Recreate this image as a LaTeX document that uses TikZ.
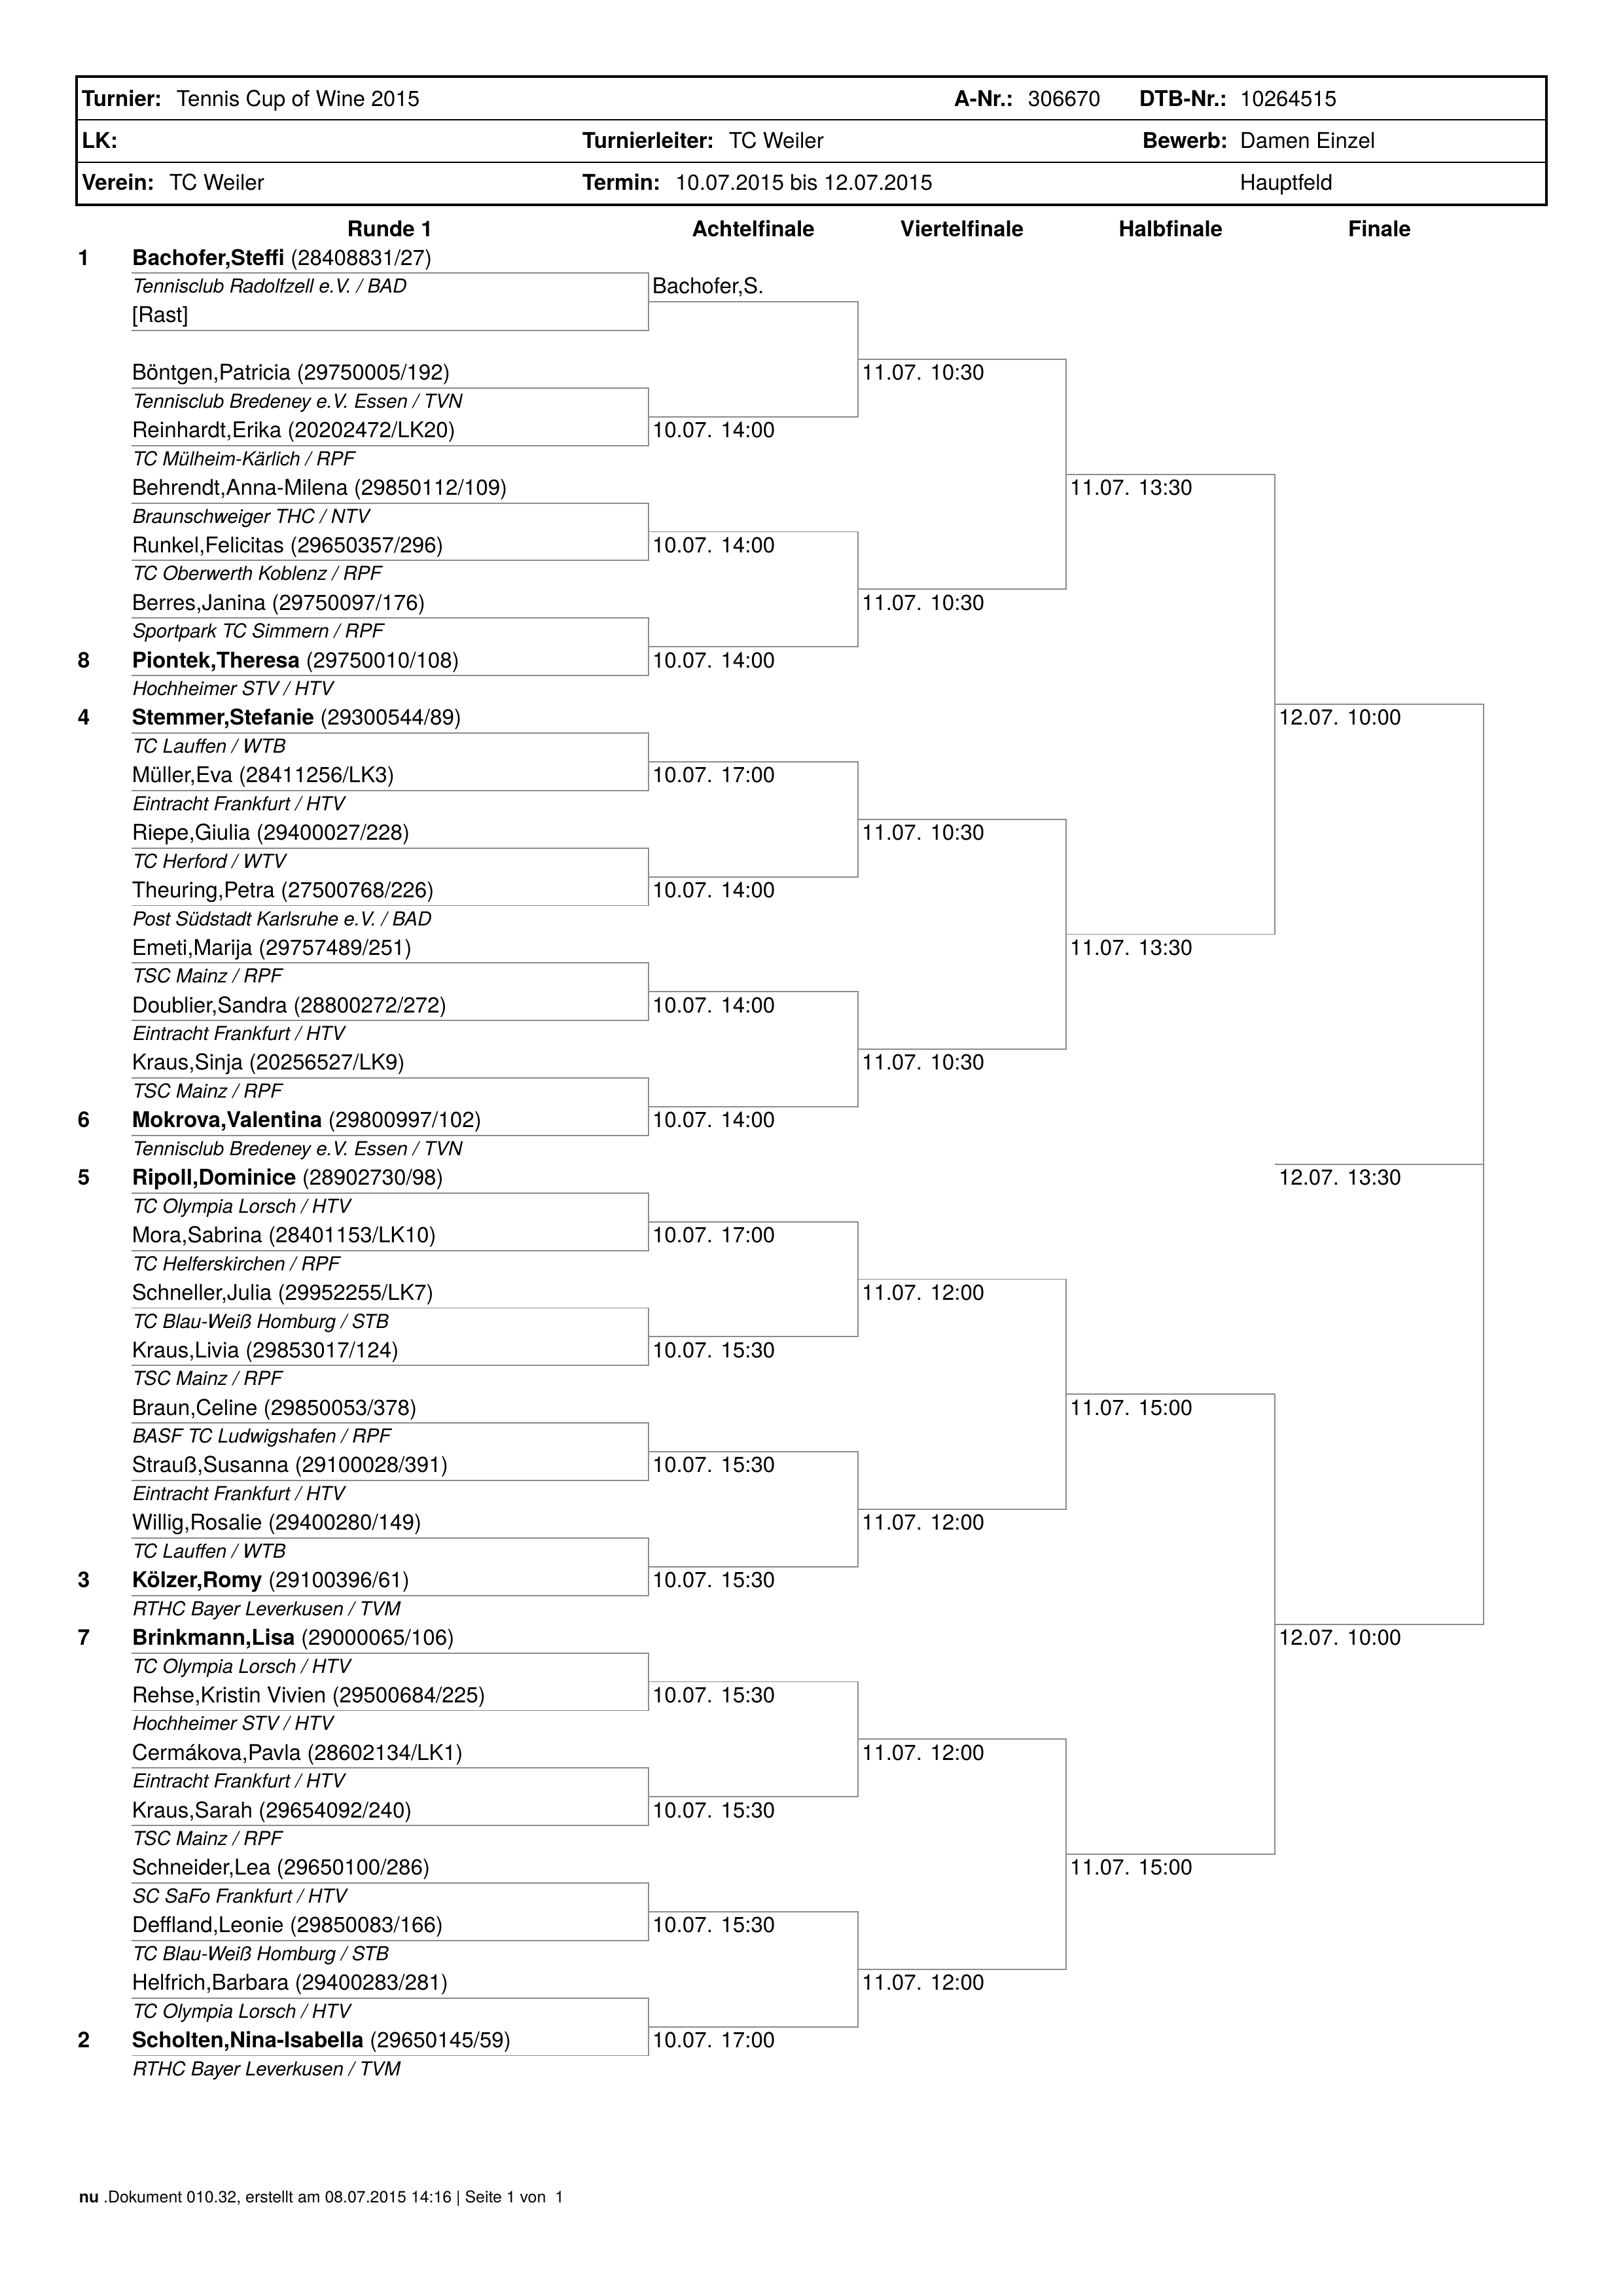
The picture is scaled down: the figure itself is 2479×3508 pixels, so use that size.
\documentclass[tikz,border=0pt]{standalone}
\usepackage{fontspec}
\setmainfont{TeX Gyre Heros}

\begin{document}
\begin{tikzpicture}[x=0.08471mm, y=-0.08471mm,
    namebox/.style={anchor=west, inner sep=0pt, text height=5.8pt, text depth=0pt, font=\fontsize{8}{9.6}\selectfont},
    clubbox/.style={namebox, text height=5.2pt, font=\fontsize{7.1}{8.5}\selectfont\itshape},
    seedbox/.style={namebox, font=\fontsize{8}{9.6}\selectfont\bfseries},
    headbox/.style={namebox, anchor=center, font=\fontsize{8}{9.6}\selectfont\bfseries},
    datebox/.style={namebox},
    bracketline/.style={draw=black!45, line width=0.45pt}]

      \useasboundingbox (0,0) rectangle (2479,3508);

      % Kopf
      \draw[line width=0.5pt] (117,183) -- (2363,183);
      \draw[line width=0.5pt] (117,248) -- (2363,248);
      \draw[line width=0.9pt] (117,117) rectangle (2363,313);

      \node[namebox] (turnier) at (124,150) {\textbf{Turnier:}\hspace{5.5pt}Tennis Cup of Wine 2015};
      \node[namebox] (anr) at (1457,150) {\textbf{A-Nr.:}\hspace{5.5pt}306670};
      \node[namebox] (dtb) at (1740,150) {\textbf{DTB-Nr.:}};
      \node[namebox] (dtbval) at (1894,150) {10264515};
      \node[namebox] (lk) at (124,214) {\textbf{LK:}};
      \node[namebox] (leiter) at (889,214) {\textbf{Turnierleiter:}\hspace{5.5pt}TC Weiler};
      \node[namebox, anchor=east] (bewerb) at (1877,214) {\textbf{Bewerb:}};
      \node[namebox] (bewerbval) at (1894,214) {Damen Einzel};
      \node[namebox] (verein) at (124,278) {\textbf{Verein:}\hspace{5.5pt}TC Weiler};
      \node[namebox] (termin) at (889,278) {\textbf{Termin:}\hspace{5.5pt}10.07.2015 bis 12.07.2015};
      \node[namebox] (feld) at (1894,278) {Hauptfeld};

      % Raster: eine Einheit in y = eine Zeile pro Spielerin
      \begin{scope}[shift={(0,305.15)}, y=-7.4419mm]

      \node[headbox] (runde) at (596,0.5) {Runde 1};
      \node[headbox] (achtel) at (1151,0.5) {Achtelfinale};
      \node[headbox] (viertel) at (1470,0.5) {Viertelfinale};
      \node[headbox] (halb) at (1789,0.5) {Halbfinale};
      \node[headbox] (finale) at (2108,0.5) {Finale};

      \foreach \r/\xa/\xb/\cnt in {1/201/991/16, 2/991/1311/8, 3/1311/1629/4, 4/1629/1948/2, 5/1948/2267/1}{
              \foreach \j in {1,...,\cnt}{
                      \draw[bracketline] (\xa,{2^\r*(\j-0.75)+0.775}) -| (\xb,{2^\r*(\j-0.25)+0.775}) -- (\xa,{2^\r*(\j-0.25)+0.775});
                  }
          }
      \draw[bracketline] (1948,16.775) -- (2267,16.775);

      \node[seedbox] (seed1) at (118,1) {1};
      \node[namebox] (name1) at (201,1) {\textbf{Bachofer,Steffi} (28408831/27)};
      \node[clubbox] (club1) at (202,1.5) {Tennisclub Radolfzell e.V. / BAD};
      \node[namebox] (name2) at (201,2) {[Rast]};
      \node[namebox] (name3) at (201,3) {Böntgen,Patricia (29750005/192)};
      \node[clubbox] (club3) at (202,3.5) {Tennisclub Bredeney e.V. Essen / TVN};
      \node[namebox] (name4) at (201,4) {Reinhardt,Erika (20202472/LK20)};
      \node[clubbox] (club4) at (202,4.5) {TC Mülheim-Kärlich / RPF};
      \node[namebox] (name5) at (201,5) {Behrendt,Anna-Milena (29850112/109)};
      \node[clubbox] (club5) at (202,5.5) {Braunschweiger THC / NTV};
      \node[namebox] (name6) at (201,6) {Runkel,Felicitas (29650357/296)};
      \node[clubbox] (club6) at (202,6.5) {TC Oberwerth Koblenz / RPF};
      \node[namebox] (name7) at (201,7) {Berres,Janina (29750097/176)};
      \node[clubbox] (club7) at (202,7.5) {Sportpark TC Simmern / RPF};
      \node[seedbox] (seed8) at (118,8) {8};
      \node[namebox] (name8) at (201,8) {\textbf{Piontek,Theresa} (29750010/108)};
      \node[clubbox] (club8) at (202,8.5) {Hochheimer STV / HTV};
      \node[seedbox] (seed9) at (118,9) {4};
      \node[namebox] (name9) at (201,9) {\textbf{Stemmer,Stefanie} (29300544/89)};
      \node[clubbox] (club9) at (202,9.5) {TC Lauffen / WTB};
      \node[namebox] (name10) at (201,10) {Müller,Eva (28411256/LK3)};
      \node[clubbox] (club10) at (202,10.5) {Eintracht Frankfurt / HTV};
      \node[namebox] (name11) at (201,11) {Riepe,Giulia (29400027/228)};
      \node[clubbox] (club11) at (202,11.5) {TC Herford / WTV};
      \node[namebox] (name12) at (201,12) {Theuring,Petra (27500768/226)};
      \node[clubbox] (club12) at (202,12.5) {Post Südstadt Karlsruhe e.V. / BAD};
      \node[namebox] (name13) at (201,13) {Emeti,Marija (29757489/251)};
      \node[clubbox] (club13) at (202,13.5) {TSC Mainz / RPF};
      \node[namebox] (name14) at (201,14) {Doublier,Sandra (28800272/272)};
      \node[clubbox] (club14) at (202,14.5) {Eintracht Frankfurt / HTV};
      \node[namebox] (name15) at (201,15) {Kraus,Sinja (20256527/LK9)};
      \node[clubbox] (club15) at (202,15.5) {TSC Mainz / RPF};
      \node[seedbox] (seed16) at (118,16) {6};
      \node[namebox] (name16) at (201,16) {\textbf{Mokrova,Valentina} (29800997/102)};
      \node[clubbox] (club16) at (202,16.5) {Tennisclub Bredeney e.V. Essen / TVN};
      \node[seedbox] (seed17) at (118,17) {5};
      \node[namebox] (name17) at (201,17) {\textbf{Ripoll,Dominice} (28902730/98)};
      \node[clubbox] (club17) at (202,17.5) {TC Olympia Lorsch / HTV};
      \node[namebox] (name18) at (201,18) {Mora,Sabrina (28401153/LK10)};
      \node[clubbox] (club18) at (202,18.5) {TC Helferskirchen / RPF};
      \node[namebox] (name19) at (201,19) {Schneller,Julia (29952255/LK7)};
      \node[clubbox] (club19) at (202,19.5) {TC Blau-Weiß Homburg / STB};
      \node[namebox] (name20) at (201,20) {Kraus,Livia (29853017/124)};
      \node[clubbox] (club20) at (202,20.5) {TSC Mainz / RPF};
      \node[namebox] (name21) at (201,21) {Braun,Celine (29850053/378)};
      \node[clubbox] (club21) at (202,21.5) {BASF TC Ludwigshafen / RPF};
      \node[namebox] (name22) at (201,22) {Strauß,Susanna (29100028/391)};
      \node[clubbox] (club22) at (202,22.5) {Eintracht Frankfurt / HTV};
      \node[namebox] (name23) at (201,23) {Willig,Rosalie (29400280/149)};
      \node[clubbox] (club23) at (202,23.5) {TC Lauffen / WTB};
      \node[seedbox] (seed24) at (118,24) {3};
      \node[namebox] (name24) at (201,24) {\textbf{Kölzer,Romy} (29100396/61)};
      \node[clubbox] (club24) at (202,24.5) {RTHC Bayer Leverkusen / TVM};
      \node[seedbox] (seed25) at (118,25) {7};
      \node[namebox] (name25) at (201,25) {\textbf{Brinkmann,Lisa} (29000065/106)};
      \node[clubbox] (club25) at (202,25.5) {TC Olympia Lorsch / HTV};
      \node[namebox] (name26) at (201,26) {Rehse,Kristin Vivien (29500684/225)};
      \node[clubbox] (club26) at (202,26.5) {Hochheimer STV / HTV};
      \node[namebox] (name27) at (201,27) {Cermákova,Pavla (28602134/LK1)};
      \node[clubbox] (club27) at (202,27.5) {Eintracht Frankfurt / HTV};
      \node[namebox] (name28) at (201,28) {Kraus,Sarah (29654092/240)};
      \node[clubbox] (club28) at (202,28.5) {TSC Mainz / RPF};
      \node[namebox] (name29) at (201,29) {Schneider,Lea (29650100/286)};
      \node[clubbox] (club29) at (202,29.5) {SC SaFo Frankfurt / HTV};
      \node[namebox] (name30) at (201,30) {Deffland,Leonie (29850083/166)};
      \node[clubbox] (club30) at (202,30.5) {TC Blau-Weiß Homburg / STB};
      \node[namebox] (name31) at (201,31) {Helfrich,Barbara (29400283/281)};
      \node[clubbox] (club31) at (202,31.5) {TC Olympia Lorsch / HTV};
      \node[seedbox] (seed32) at (118,32) {2};
      \node[namebox] (name32) at (201,32) {\textbf{Scholten,Nina-Isabella} (29650145/59)};
      \node[clubbox] (club32) at (202,32.5) {RTHC Bayer Leverkusen / TVM};

      % Achtelfinale
      \node[datebox] (sieger1) at (996,1.5) {Bachofer,S.};
      \node[datebox] (a2) at (996,4) {10.07. 14:00};
      \node[datebox] (a3) at (996,6) {10.07. 14:00};
      \node[datebox] (a4) at (996,8) {10.07. 14:00};
      \node[datebox] (a5) at (996,10) {10.07. 17:00};
      \node[datebox] (a6) at (996,12) {10.07. 14:00};
      \node[datebox] (a7) at (996,14) {10.07. 14:00};
      \node[datebox] (a8) at (996,16) {10.07. 14:00};
      \node[datebox] (a9) at (996,18) {10.07. 17:00};
      \node[datebox] (a10) at (996,20) {10.07. 15:30};
      \node[datebox] (a11) at (996,22) {10.07. 15:30};
      \node[datebox] (a12) at (996,24) {10.07. 15:30};
      \node[datebox] (a13) at (996,26) {10.07. 15:30};
      \node[datebox] (a14) at (996,28) {10.07. 15:30};
      \node[datebox] (a15) at (996,30) {10.07. 15:30};
      \node[datebox] (a16) at (996,32) {10.07. 17:00};

      % Viertelfinale
      \node[datebox] (v1) at (1316,3) {11.07. 10:30};
      \node[datebox] (v2) at (1316,7) {11.07. 10:30};
      \node[datebox] (v3) at (1316,11) {11.07. 10:30};
      \node[datebox] (v4) at (1316,15) {11.07. 10:30};
      \node[datebox] (v5) at (1316,19) {11.07. 12:00};
      \node[datebox] (v6) at (1316,23) {11.07. 12:00};
      \node[datebox] (v7) at (1316,27) {11.07. 12:00};
      \node[datebox] (v8) at (1316,31) {11.07. 12:00};

      % Halbfinale
      \node[datebox] (h1) at (1634,5) {11.07. 13:30};
      \node[datebox] (h2) at (1634,13) {11.07. 13:30};
      \node[datebox] (h3) at (1634,21) {11.07. 15:00};
      \node[datebox] (h4) at (1634,29) {11.07. 15:00};

      % Finale
      \node[datebox] (f1) at (1953,9) {12.07. 10:00};
      \node[datebox] (f2) at (1953,25) {12.07. 10:00};
      \node[datebox] (f3) at (1953,17) {12.07. 13:30};

      \end{scope}

      \node[namebox, text height=4.4pt, font=\fontsize{6}{7.2}\selectfont] (fuss) at (120,3356) {\textbf{nu} .Dokument 010.32, erstellt am 08.07.2015 14:16 | Seite 1 von\ \ 1};

\end{tikzpicture}
\end{document}
